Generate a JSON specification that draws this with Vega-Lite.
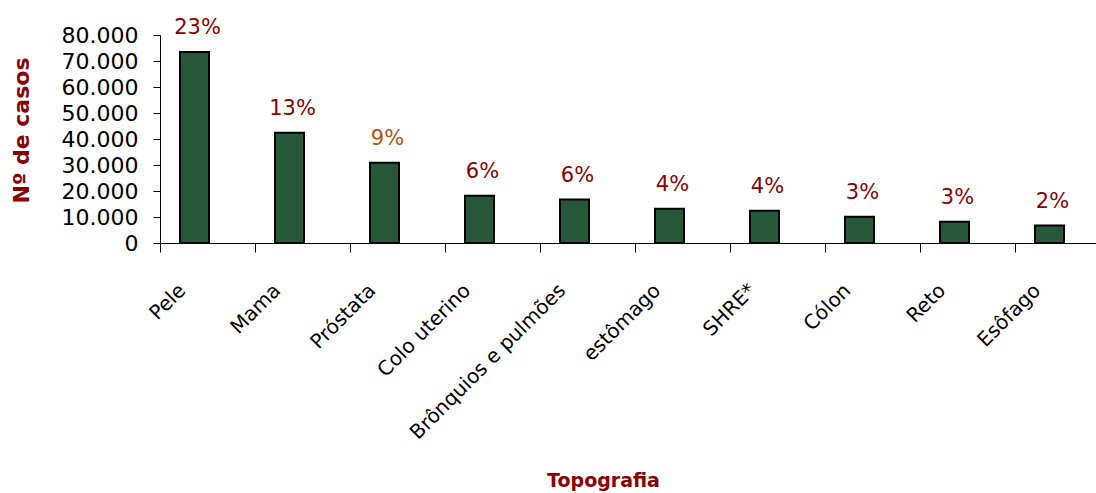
{
  "$schema": "https://vega.github.io/schema/vega-lite/v6.json",
  "autosize": {"type": "none"},
  "padding": {"left": 160, "top": 35, "right": 0, "bottom": 250},
  "width": 936,
  "height": 208,
  "background": "white",
  "config": {
    "view": {"stroke": null},
    "locale": {"number": {"decimal": ",", "thousands": ".", "grouping": [3], "currency": ["R$", ""]}},
    "font": "DejaVu Sans"
  },
  "data": {
    "values": [
      {"topografia": "Pele", "casos": 73500, "pct": "23%"},
      {"topografia": "Mama", "casos": 42400, "pct": "13%"},
      {"topografia": "Próstata", "casos": 30900, "pct": "9%"},
      {"topografia": "Colo uterino", "casos": 18200, "pct": "6%"},
      {"topografia": "Brônquios e pulmões", "casos": 16700, "pct": "6%"},
      {"topografia": "estômago", "casos": 13200, "pct": "4%"},
      {"topografia": "SHRE*", "casos": 12400, "pct": "4%"},
      {"topografia": "Cólon", "casos": 10100, "pct": "3%"},
      {"topografia": "Reto", "casos": 8200, "pct": "3%"},
      {"topografia": "Esôfago", "casos": 6700, "pct": "2%"}
    ]
  },
  "encoding": {
    "x": {
      "field": "topografia",
      "type": "nominal",
      "sort": null,
      "scale": {"range": [0, 950], "paddingInner": 0, "paddingOuter": 0},
      "axis": {
        "title": "Topografia",
        "titleFont": "DejaVu Sans",
        "titleFontSize": 19,
        "titleFontWeight": "bold",
        "titleColor": "#8B0000",
        "titleX": 443,
        "titleY": 237,
        "titleBaseline": "middle",
        "titleAlign": "center",
        "bandPosition": 0,
        "labelOffset": -25,
        "labelAngle": -45,
        "labelAlign": "right",
        "labelBaseline": "middle",
        "labelFontSize": 20,
        "labelColor": "black",
        "labelPadding": 35,
        "labelLimit": 0,
        "tickSize": 9,
        "tickColor": "black",
        "domainColor": "black",
        "labelOverlap": false
      }
    },
    "y": {
      "field": "casos",
      "type": "quantitative",
      "scale": {"domain": [0, 80000], "nice": false},
      "axis": {
        "title": "Nº de casos",
        "titleFont": "DejaVu Sans",
        "titleFontSize": 22,
        "titleFontWeight": "bold",
        "titleColor": "#8B0000",
        "titleAngle": -90,
        "titleX": -139,
        "titleY": 95,
        "titleBaseline": "middle",
        "titleAlign": "center",
        "values": [0, 10000, 20000, 30000, 40000, 50000, 60000, 70000, 80000],
        "format": ",d",
        "labelFontSize": 22,
        "labelColor": "black",
        "labelPadding": 15,
        "tickSize": 7,
        "tickColor": "black",
        "domainColor": "black",
        "grid": false
      }
    }
  },
  "layer": [
    {
      "mark": {"type": "bar", "width": 29, "xOffset": -13, "fill": "#27583a", "stroke": "black", "strokeWidth": 2}
    },
    {
      "mark": {"type": "text", "xOffset": -10, "dy": -18, "baseline": "alphabetic", "fontSize": 21, "font": "DejaVu Sans"},
      "encoding": {
        "text": {"field": "pct"},
        "color": {
          "condition": {"test": "datum.pct === '9%'", "value": "#B5520F"},
          "value": "#8B0000"
        }
      }
    }
  ]
}
